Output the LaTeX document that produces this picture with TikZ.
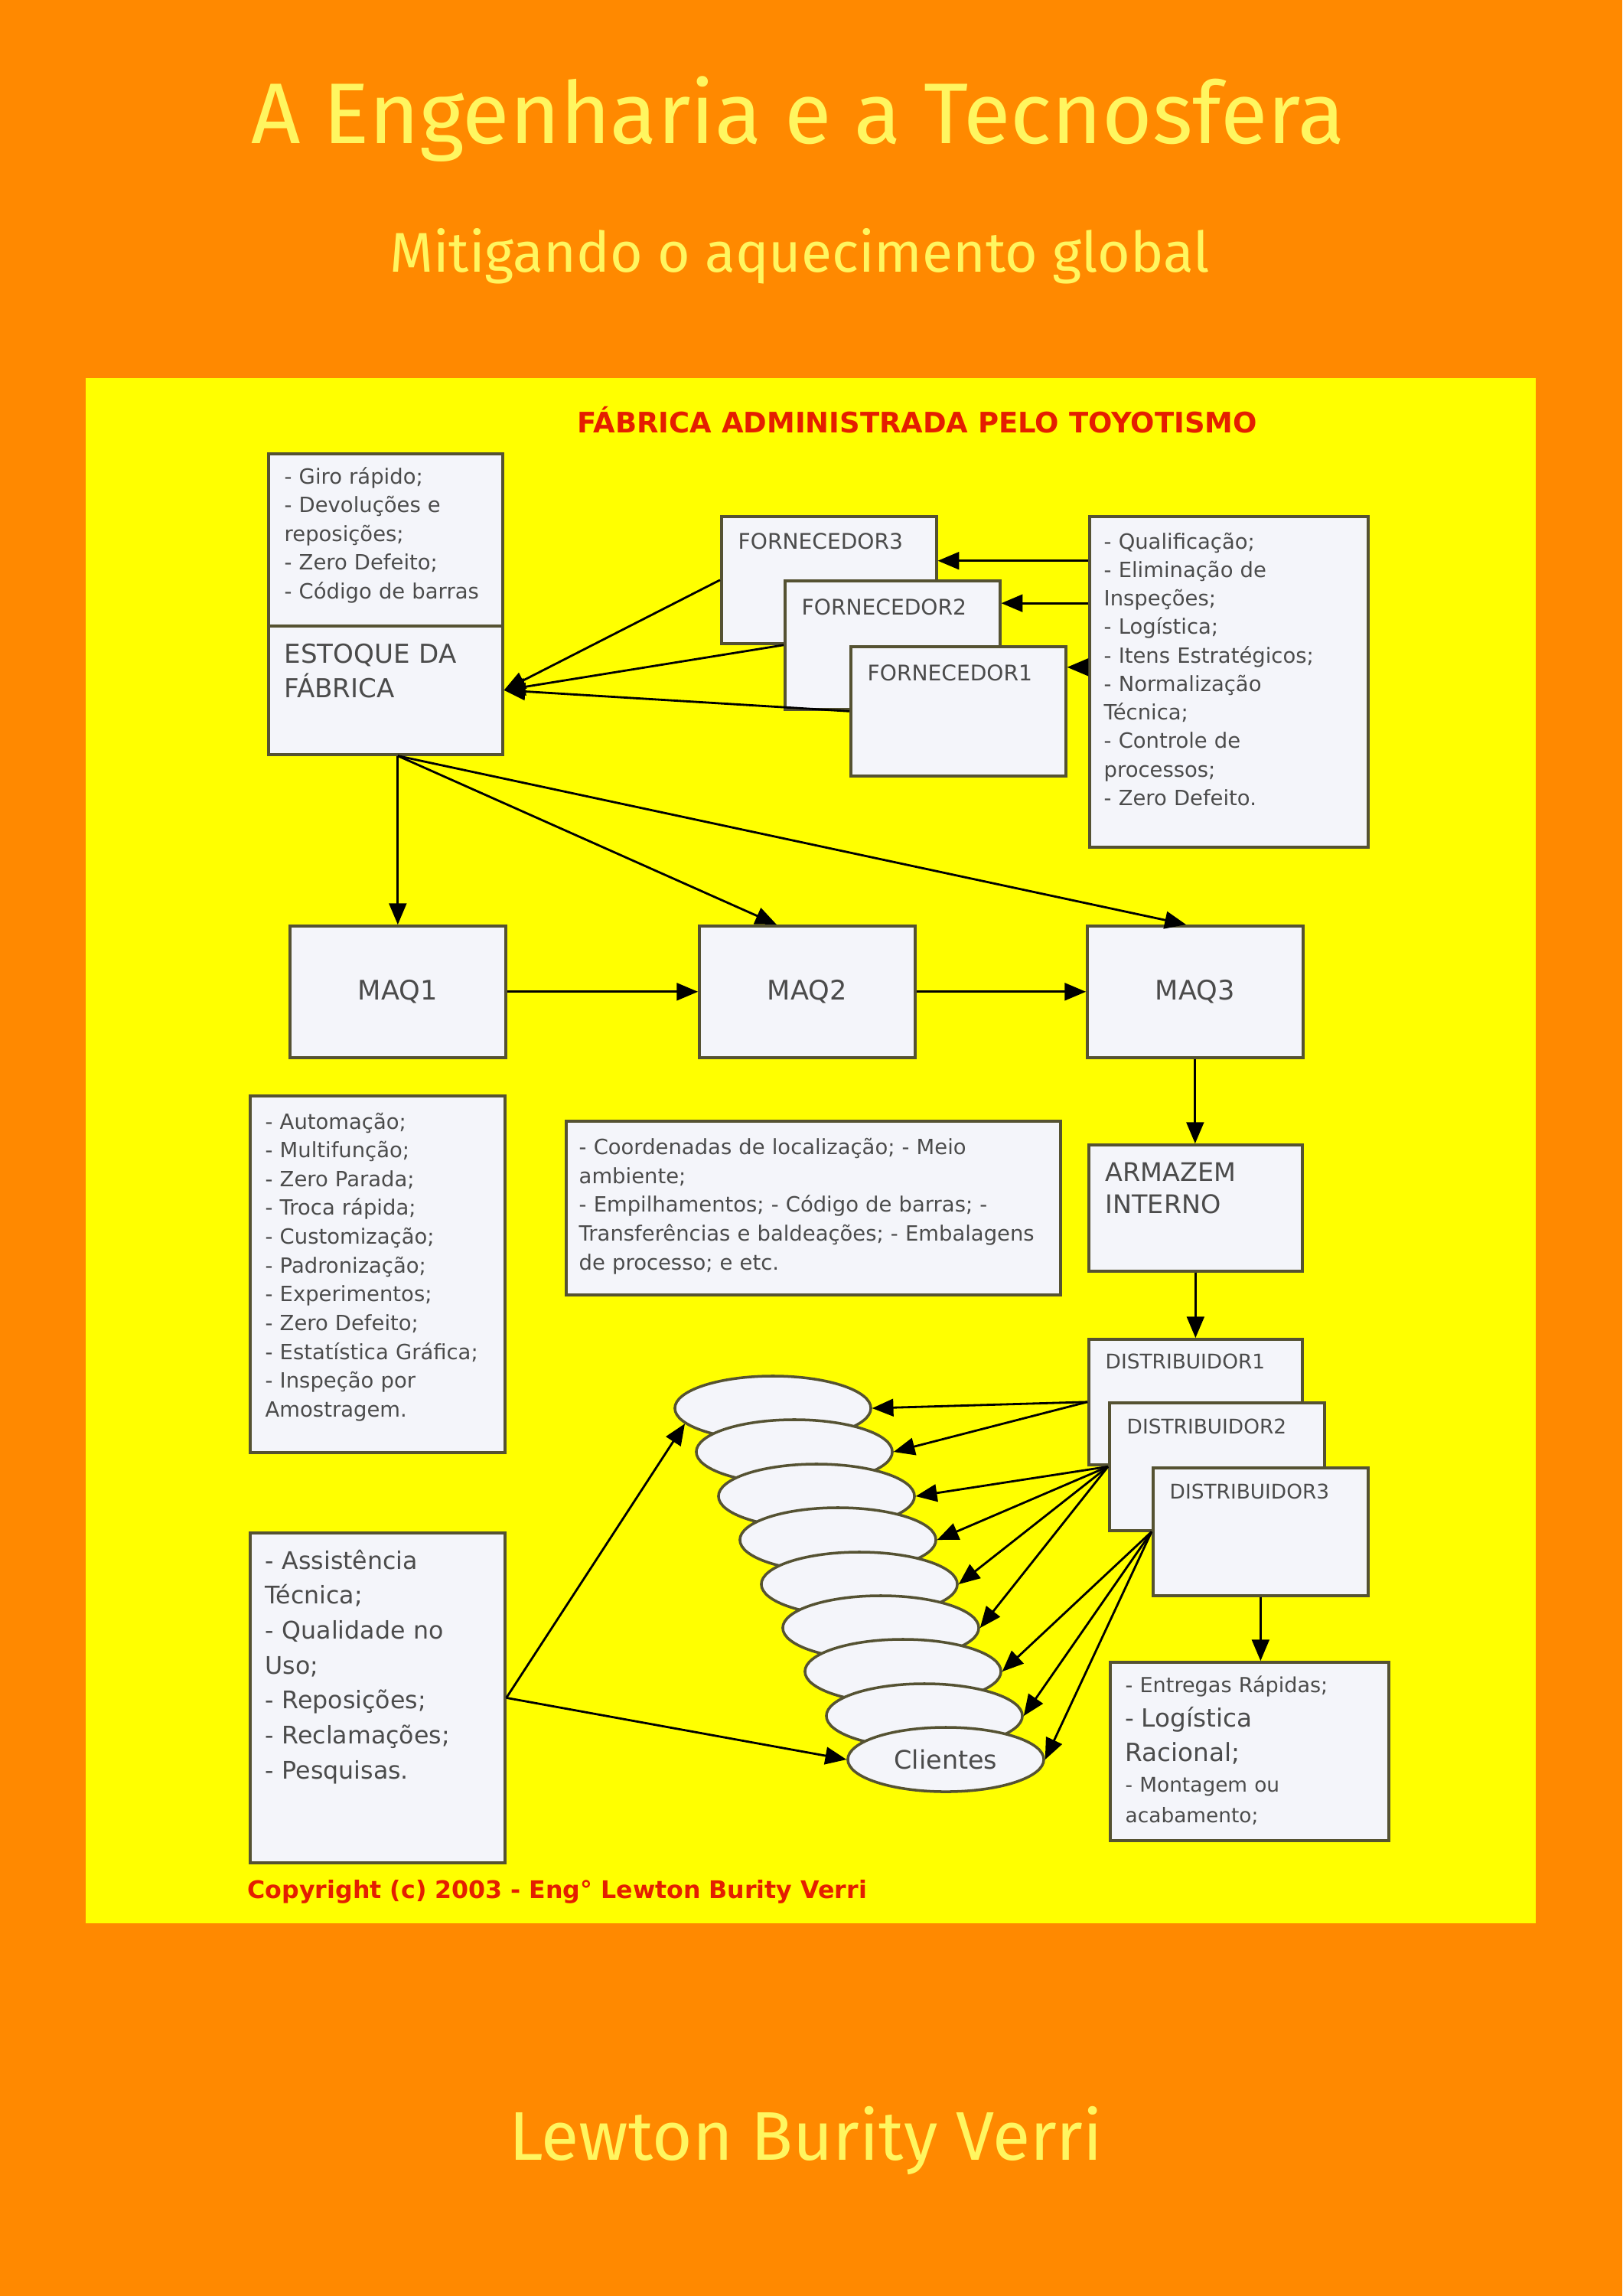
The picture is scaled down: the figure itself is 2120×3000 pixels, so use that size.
\documentclass[tikz,border=0pt]{standalone}
\usepackage{fontspec}
\setmainfont{DejaVu Sans}
\newfontfamily\capa{Fira Sans}
\usetikzlibrary{arrows}
\usetikzlibrary{shapes.geometric}

\definecolor{laranja}{RGB}{255,137,0}
\definecolor{amarelo}{RGB}{255,255,0}
\definecolor{letreiro}{RGB}{255,246,96}
\definecolor{caixa}{RGB}{244,245,250}
\definecolor{borda}{RGB}{85,82,50}
\definecolor{cinza}{RGB}{75,75,75}
\definecolor{vermelho}{RGB}{228,30,0}

\begin{document}
\begin{tikzpicture}[x=0.01cm, y=-0.01cm, >=triangle 45,
  bloco/.style={draw=borda, fill=caixa, line width=1pt, inner sep=0pt, anchor=north west, text=cinza},
  bola/.style={ellipse, draw=borda, fill=caixa, line width=1pt, minimum width=2.56cm, minimum height=0.84cm, inner sep=0pt, text=cinza},
  txt/.style={anchor=base west, inner sep=0pt, align=left, text=cinza, font=\fontsize{7.8}{10.7}\selectfont},
  seta/.style={->, line width=0.8pt}]
% fundo da capa
\fill[laranja] (0,0) rectangle (2120,3000);
\fill[amarelo] (112,494) rectangle (2007,2513);

\node[font=\capa\fontsize{32}{40}\selectfont, text=letreiro, anchor=base, inner sep=0pt] (titulo) at (1043,188) {A Engenharia e a Tecnosfera};
\node[font=\capa\fontsize{20.8}{26}\selectfont, text=letreiro, anchor=base, inner sep=0pt] (subtitulo) at (1045,355) {Mitigando o aquecimento global};
\node[font=\capa\fontsize{25.6}{30}\selectfont, text=letreiro, anchor=base, inner sep=0pt] (autor) at (1053,2822) {Lewton Burity Verri};
\node[font=\bfseries\fontsize{10.5}{12}\selectfont, text=vermelho, anchor=base west, inner sep=0pt] (cabecalho) at (754,565) {FÁBRICA ADMINISTRADA PELO TOYOTISMO};
\node[font=\bfseries\fontsize{9}{11}\selectfont, text=vermelho, anchor=base west, inner sep=0pt] (copyright) at (323,2480) {Copyright (c) 2003 - Eng° Lewton Burity Verri};

% estoque e fornecedores
\node[bloco, minimum width=3.06cm, minimum height=2.25cm] (giro) at (349,591) {};
\node[bloco, minimum width=3.06cm, minimum height=1.68cm] (estoque) at (349,816) {};
\node[bloco, minimum width=2.81cm, minimum height=1.66cm] (forn3) at (941,673) {};
\node[bloco, minimum width=2.81cm, minimum height=1.68cm] (forn2) at (1024,757) {};
\node[bloco, minimum width=2.81cm, minimum height=1.69cm] (forn1) at (1110,843) {};
\node[bloco, minimum width=3.64cm, minimum height=4.32cm] (qualif) at (1422,673) {};

\node[txt, text width=2.8cm] (tgiro) at (371,632) {- Giro rápido;\\- Devoluções e\\reposições;\\- Zero Defeito;\\- Código de barras};
\node[txt, text width=2.8cm, font=\fontsize{9.7}{13}\selectfont] (testoque) at (371,866) {ESTOQUE DA\\FÁBRICA};
\node[txt, font=\fontsize{8}{10}\selectfont] (tforn3) at (964,717) {FORNECEDOR3};
\node[txt, font=\fontsize{8}{10}\selectfont] (tforn2) at (1047,803) {FORNECEDOR2};
\node[txt, font=\fontsize{8}{10}\selectfont] (tforn1) at (1133,889) {FORNECEDOR1};
\node[txt, text width=3.3cm, font=\fontsize{7.8}{10.6}\selectfont] (tqualif) at (1442,717) {- Qualificação;\\- Eliminação de\\Inspeções;\\- Logística;\\- Itens Estratégicos;\\- Normalização\\Técnica;\\- Controle de\\processos;\\- Zero Defeito.};

% maquinas
\node[bloco, minimum width=2.82cm, minimum height=1.72cm, font=\fontsize{10}{12}\selectfont] (maq1) at (377,1208) {MAQ1};
\node[bloco, minimum width=2.82cm, minimum height=1.72cm, font=\fontsize{10}{12}\selectfont] (maq2) at (912,1208) {MAQ2};
\node[bloco, minimum width=2.82cm, minimum height=1.72cm, font=\fontsize{10}{12}\selectfont] (maq3) at (1419,1208) {MAQ3};

\node[bloco, minimum width=3.33cm, minimum height=4.66cm] (autom) at (325,1430) {};
\node[bloco, minimum width=6.46cm, minimum height=2.27cm] (coord) at (738,1463) {};
\node[txt, text width=3.1cm] (tautom) at (346,1475) {- Automação;\\- Multifunção;\\- Zero Parada;\\- Troca rápida;\\- Customização;\\- Padronização;\\- Experimentos;\\- Zero Defeito;\\- Estatística Gráfica;\\- Inspeção por\\Amostragem.};
\node[txt, text width=6.3cm, font=\fontsize{7.8}{10.8}\selectfont] (tcoord) at (756,1508) {- Coordenadas de localização; - Meio\\ambiente;\\- Empilhamentos; - Código de barras; -\\Transferências e baldeações; - Embalagens\\de processo; e etc.};

% armazem e distribuidores
\node[bloco, minimum width=2.79cm, minimum height=1.65cm] (armazem) at (1421,1494) {};
\node[txt, text width=2.5cm, font=\fontsize{9.5}{12.2}\selectfont] (tarmazem) at (1444,1543) {ARMAZEM\\INTERNO};
\node[bloco, minimum width=2.79cm, minimum height=1.64cm] (dist1) at (1421,1748) {};
\node[txt, font=\fontsize{7.5}{9}\selectfont] (tdist1) at (1444,1788) {DISTRIBUIDOR1};
\node[bloco, minimum width=2.81cm, minimum height=1.67cm] (dist2) at (1448,1831) {};
\node[txt, font=\fontsize{7.5}{9}\selectfont] (tdist2) at (1472,1873) {DISTRIBUIDOR2};
\node[bloco, minimum width=2.81cm, minimum height=1.67cm] (dist3) at (1505,1916) {};
\node[txt, font=\fontsize{7.5}{9}\selectfont] (tdist3) at (1528,1958) {DISTRIBUIDOR3};

\node[bloco, minimum width=3.33cm, minimum height=4.31cm] (assist) at (325,2001) {};
\node[txt, text width=3.1cm, font=\fontsize{9}{13}\selectfont] (tassist) at (346,2050) {- Assistência\\Técnica;\\- Qualidade no\\Uso;\\- Reposições;\\- Reclamações;\\- Pesquisas.};
\node[bloco, minimum width=3.64cm, minimum height=2.33cm] (entregas) at (1449,2170) {};
\node[txt, text width=3.4cm] (tentregas) at (1470,2211) {{\fontsize{7.7}{11.4}\selectfont - Entregas Rápidas;\par}{\fontsize{9.3}{12.8}\selectfont - Logística\\Racional;\par}{\fontsize{7.5}{11.4}\selectfont - Montagem ou\\acabamento;\par}};

% clientes
\node[bola] (cli1) at (1010,1840) {};
\node[bola] (cli2) at (1038,1897) {};
\node[bola] (cli3) at (1067,1955) {};
\node[bola] (cli4) at (1095,2012) {};
\node[bola] (cli5) at (1123,2070) {};
\node[bola] (cli6) at (1151,2127) {};
\node[bola] (cli7) at (1180,2184) {};
\node[bola] (cli8) at (1208,2242) {};
\node[bola, font=\fontsize{9.5}{11}\selectfont] (cli9) at (1236,2299) {Clientes};

% setas
\draw[seta] (forn3.west) -- (estoque.east);
\draw[seta] (forn2.west) -- (estoque.east);
\draw[seta] (forn1.west) -- (estoque.east);
\draw[seta] (qualif.west |- forn3.10) -- (forn3.10);
\draw[seta] (qualif.west |- forn2.21) -- (forn2.21);
\draw[seta] (qualif.west |- forn1.22) -- (forn1.22);

\coordinate (saida) at (estoque.south -| maq1.north);
\draw[seta] (saida) -- (maq1.north);
\draw[seta] (saida) -- ([xshift=-0.4cm]maq2.north);
\draw[seta] (saida) -- ([xshift=-0.12cm]maq3.north);
\draw[seta] (maq1.east) -- (maq2.west);
\draw[seta] (maq2.east) -- (maq3.west);
\draw[seta] (maq3.south) -- (maq3.south |- armazem.north);
\draw[seta] (armazem.south) -- (armazem.south |- dist1.north);
\draw[seta] (dist3.south) -- (dist3.south |- entregas.north);

\draw[seta] (dist1.west) -- (cli1.east);
\draw[seta] (dist1.west) -- (cli2.east);
\draw[seta] (dist2.west) -- (cli3.east);
\draw[seta] (dist2.west) -- (cli4.east);
\draw[seta] (dist2.west) -- (cli5.east);
\draw[seta] (dist2.west) -- (cli6.east);
\draw[seta] (dist3.west) -- (cli7.east);
\draw[seta] (dist3.west) -- (cli8.east);
\draw[seta] (dist3.west) -- (cli9.east);
\draw[seta] (assist.east) -- (cli1.190);
\draw[seta] (assist.east) -- (cli9.west);
\end{tikzpicture}
\end{document}
